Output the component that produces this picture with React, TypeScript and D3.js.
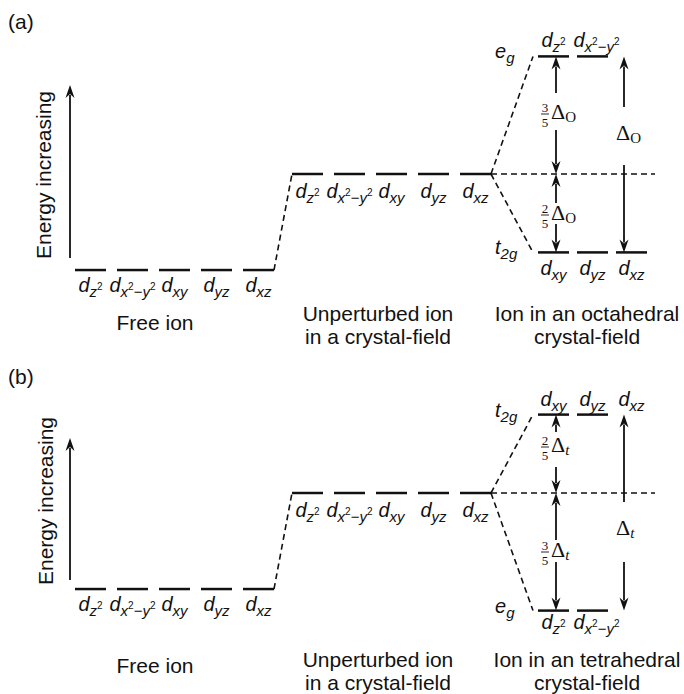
import React from "react";
import * as d3 from "d3";

// d orbitals, in the order they are drawn
const orbitals = ["z2", "x2-y2", "xy", "yz", "xz"];
const egOrbitals = ["z2", "x2-y2"];
const t2gOrbitals = ["xy", "yz", "xz"];

// energies in units of the splitting, relative to the barycentre
const freeIonEnergy = -0.49;
const barycentreEnergy = 0;
const octaGroups = ["eg", "t2g"];
const octaEnergy = [0.6, -0.4];
const tetraGroups = ["t2g", "eg"];
const tetraEnergy = [0.4, -0.6];

// splitting fractions [numerator, denominator]
const octaFractions = [["3", "5"], ["2", "5"]];
const tetraFractions = [["2", "5"], ["3", "5"]];

const octaTitle = ["Ion in an octahedral", "crystal-field"];
const tetraTitle = ["Ion in an tetrahedral", "crystal-field"];
const freeTitle = ["Free ion"];
const unpTitle = ["Unperturbed ion", "in a crystal-field"];

const SANS = "'Liberation Sans', Arial, Helvetica, sans-serif";
const SERIF = "'Liberation Serif', 'Times New Roman', serif";
const DELTA_PX = 196;
const SEG_W = 31;

function OrbLabel({ kind, x, y }: { kind: string; x: number; y: number }) {
  const sub = 15, sup = 10;
  let parts: React.ReactNode;
  if (kind === "z2") {
    parts = [
      <tspan key="s" fontSize={sub} dy={5}>z</tspan>,
      <tspan key="p" fontSize={sup} fontStyle="normal" dy={-7}>2</tspan>,
    ];
  } else if (kind === "x2-y2") {
    parts = [
      <tspan key="a" fontSize={sub} dy={5}>x</tspan>,
      <tspan key="b" fontSize={sup} fontStyle="normal" dy={-7}>2</tspan>,
      <tspan key="c" fontSize={sub} fontStyle="normal" dy={7}>−</tspan>,
      <tspan key="d" fontSize={sub}>y</tspan>,
      <tspan key="e" fontSize={sup} fontStyle="normal" dy={-7}>2</tspan>,
    ];
  } else {
    parts = <tspan fontSize={sub} dy={5}>{kind}</tspan>;
  }
  return (
    <text x={x} y={y} textAnchor="middle" fontFamily={SANS} fontStyle="italic" fontSize={20}>
      d{parts}
    </text>
  );
}

function GroupLabel({ name, x, y }: { name: string; x: number; y: number }) {
  return (
    <text x={x} y={y} fontFamily={SANS} fontStyle="italic" fontSize={20}>
      {name === "eg" ? "e" : "t"}
      <tspan fontSize={15} dy={5}>{name === "eg" ? "g" : "2g"}</tspan>
    </text>
  );
}

function Head({ x, y, dir }: { x: number; y: number; dir: number }) {
  // dir = -1 points up, +1 points down
  const b = y - dir * 13, n = y - dir * 9;
  return <path d={`M${x},${y}L${x - 4.5},${b}L${x},${n}L${x + 4.5},${b}Z`} fill="#111" />;
}

function DeltaLabel({ x, y, frac, sub, italicSub }: any) {
  return (
    <g fontFamily={SERIF} fill="#111">
      {frac && (
        <g>
          <text x={x - 11} y={y - 7} fontSize={13} textAnchor="middle">{frac[0]}</text>
          <line x1={x - 15} x2={x - 7} y1={y - 5} y2={y - 5} stroke="#111" strokeWidth={0.9} />
          <text x={x - 11} y={y + 7.5} fontSize={13} textAnchor="middle">{frac[1]}</text>
        </g>
      )}
      <text x={frac ? x - 5 : x - 8} y={y} fontSize={22}>
        Δ<tspan fontSize={15} dy={3} fontStyle={italicSub ? "italic" : "normal"}>{sub}</tspan>
      </text>
    </g>
  );
}

function Panel({ cfg }: { cfg: any }) {
  const y = d3.scaleLinear().domain([0, 1]).range([cfg.baryY, cfg.baryY - DELTA_PX]);
  const xFree = d3.scaleLinear().domain([0, 4]).range([75, 75 + 4 * 42]);
  const xUnp = d3.scaleLinear().domain([0, 4]).range([292, 292 + 4 * 42]);
  const xSplit = d3.scaleLinear().domain([0, 2]).range([538, 538 + 2 * 39]);
  const yFree = y(freeIonEnergy);
  const yBary = y(barycentreEnergy);
  const splitStart = xUnp(4) + SEG_W;

  const groupOrbs = (g: string) => (g === "eg" ? egOrbitals : t2gOrbitals);

  return (
    <g>
      <text x={8} y={cfg.tagY} fontFamily={SANS} fontSize={21}>{cfg.tag}</text>

      {/* energy axis */}
      <line x1={70} x2={70} y1={cfg.axis[0]} y2={cfg.axis[1] + 10} stroke="#111" strokeWidth={1.8} />
      <Head x={70} y={cfg.axis[1]} dir={-1} />
      <text
        transform={`translate(${cfg.axisTextX},${cfg.axisTextY}) rotate(-90)`}
        textAnchor="middle" fontFamily={SANS} fontSize={21}
      >Energy increasing</text>

      {/* free ion */}
      {orbitals.map((o, i) => (
        <g key={"f" + o}>
          <line x1={xFree(i)} x2={xFree(i) + SEG_W} y1={yFree} y2={yFree} stroke="#111" strokeWidth={2.5} />
          <OrbLabel kind={o} x={xFree(i) + SEG_W / 2} y={yFree + 22} />
        </g>
      ))}
      <line x1={xFree(4) + SEG_W} y1={yFree} x2={xUnp(0)} y2={yBary}
        stroke="#111" strokeWidth={1.6} strokeDasharray="6,4" />

      {/* unperturbed */}
      {orbitals.map((o, i) => (
        <g key={"u" + o}>
          <line x1={xUnp(i)} x2={xUnp(i) + SEG_W} y1={yBary} y2={yBary} stroke="#111" strokeWidth={2.5} />
          <OrbLabel kind={o} x={xUnp(i) + SEG_W / 2} y={yBary + 24} />
        </g>
      ))}

      {/* split levels */}
      <line x1={splitStart} x2={655} y1={yBary} y2={yBary} stroke="#111" strokeWidth={1.6} strokeDasharray="6,4" />
      {cfg.groups.map((g: string, gi: number) => {
        const ly = y(cfg.energies[gi]);
        const upper = cfg.energies[gi] > 0;
        return (
          <g key={g}>
            <line x1={splitStart} y1={yBary} x2={533} y2={ly} stroke="#111" strokeWidth={1.6} strokeDasharray="6,4" />
            <GroupLabel name={g} x={495} y={ly + 2} />
            {groupOrbs(g).map((o, i) => (
              <g key={o}>
                {!(cfg.hideSeg && cfg.hideSeg === g + i) && (
                  <line x1={xSplit(i)} x2={xSplit(i) + SEG_W} y1={ly} y2={ly} stroke="#111" strokeWidth={2.5} />
                )}
                <OrbLabel kind={o} x={xSplit(i) + SEG_W / 2 + (o === "x2-y2" ? 4 : 0)}
                  y={upper ? ly - 9 : ly + cfg.lowerDy} />
              </g>
            ))}
          </g>
        );
      })}

      {/* splitting arrows */}
      {cfg.arrows.map((a: any, k: number) => {
        const top = y(a.from), bot = y(a.to);
        const g0 = yBary + a.gap[0], g1 = yBary + a.gap[1];
        return (
          <g key={k}>
            <line x1={a.x} x2={a.x} y1={top + 10} y2={g0} stroke="#111" strokeWidth={1.8} />
            <line x1={a.x} x2={a.x} y1={g1} y2={bot - 10} stroke="#111" strokeWidth={1.8} />
            <Head x={a.x} y={top} dir={-1} />
            <Head x={a.x} y={bot} dir={1} />
            <DeltaLabel x={a.x} y={yBary + a.labelDy} frac={a.frac} sub={cfg.deltaSub} italicSub={cfg.deltaItalic} />
          </g>
        );
      })}

      {/* stage titles */}
      {[[freeTitle, 155, cfg.freeY], [unpTitle, 378, cfg.titleY], [cfg.title, 587, cfg.titleY]].map(
        ([lines, cx, ty]: any, i) =>
          lines.map((s: string, j: number) => (
            <text key={i + "-" + j} x={cx} y={ty + j * 22.5} textAnchor="middle" fontFamily={SANS} fontSize={21}>{s}</text>
          ))
      )}
    </g>
  );
}

const panelA = {
  tag: "(a)", tagY: 29, baryY: 174, axis: [258, 85], axisTextX: 51, axisTextY: 175,
  groups: octaGroups, energies: octaEnergy, lowerDy: 23, title: octaTitle,
  freeY: 330, titleY: 321, deltaSub: "O", deltaItalic: false,
  arrows: [
    { x: 556, from: octaEnergy[0], to: 0, gap: [-81, -44], labelDy: -55, frac: octaFractions[0] },
    { x: 556, from: 0, to: octaEnergy[1], gap: [29, 50], labelDy: 46, frac: octaFractions[1] },
    { x: 624, from: octaEnergy[0], to: octaEnergy[1], gap: [-67, -9], labelDy: -34 },
  ],
};

const panelB = {
  tag: "(b)", tagY: 384, baryY: 493, axis: [580, 438], axisTextX: 53, axisTextY: 501,
  groups: tetraGroups, energies: tetraEnergy, lowerDy: 18, title: tetraTitle,
  freeY: 673, titleY: 667, deltaSub: "t", deltaItalic: true, hideSeg: "t2g2",
  arrows: [
    { x: 556, from: tetraEnergy[0], to: 0, gap: [-61, -26], labelDy: -41, frac: tetraFractions[0] },
    { x: 556, from: 0, to: tetraEnergy[1], gap: [47, 69], labelDy: 64, frac: tetraFractions[1] },
    { x: 624, from: tetraEnergy[0], to: tetraEnergy[1], gap: [9, 69], labelDy: 42 },
  ],
};

export default function App() {
  return (
    <svg width={684} height={694} style={{ display: "block", position: "absolute", left: 0, top: 0 }}>
      <rect width={684} height={694} fill="#fff" />
      <g fill="#111">
        <Panel cfg={panelA} />
        <Panel cfg={panelB} />
      </g>
    </svg>
  );
}
